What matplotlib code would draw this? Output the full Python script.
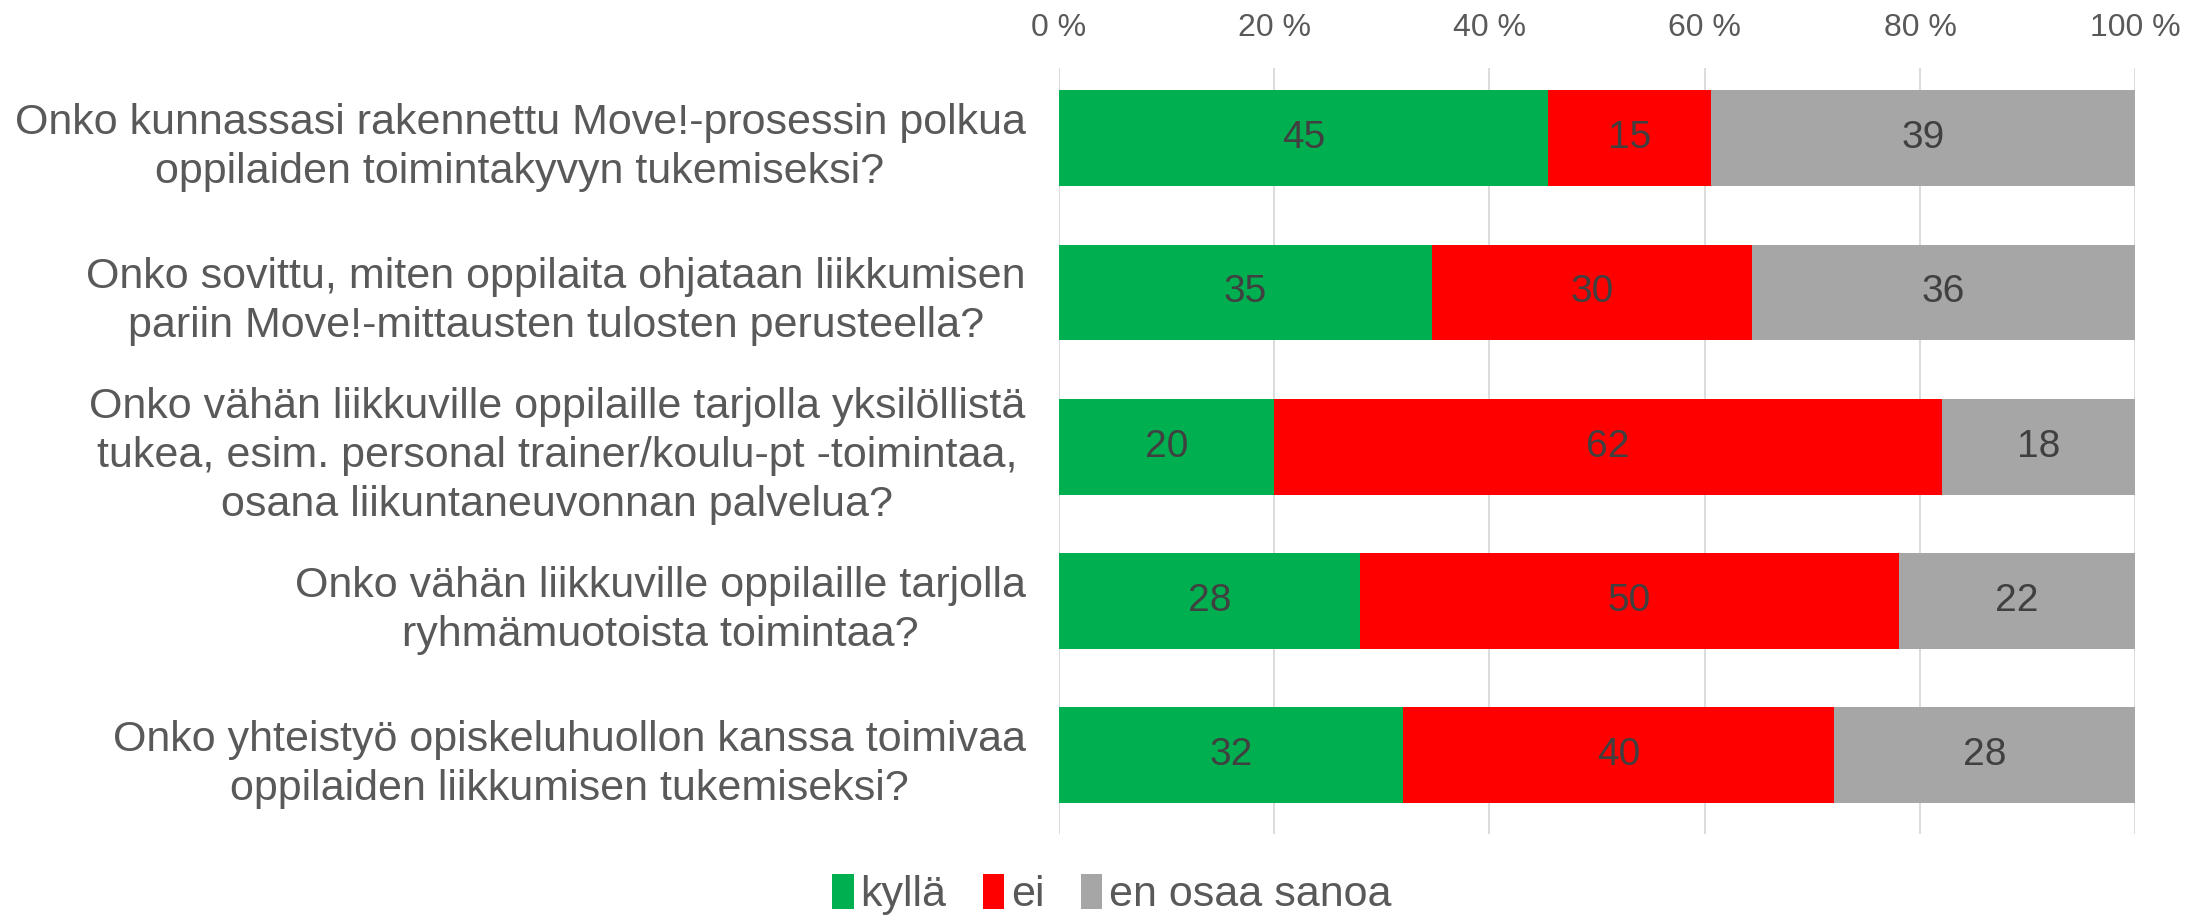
import matplotlib
matplotlib.use("Agg")
import matplotlib.pyplot as plt
import numpy as np

plt.rcParams['font.family'] = ['Liberation Sans', 'DejaVu Sans']

categories = [
    "Onko kunnassasi rakennettu Move!-prosessin polkua\noppilaiden toimintakyvyn tukemiseksi?",
    "Onko sovittu, miten oppilaita ohjataan liikkumisen\npariin Move!-mittausten tulosten perusteella?",
    "Onko vähän liikkuville oppilaille tarjolla yksilöllistä\ntukea, esim. personal trainer/koulu-pt -toimintaa,\nosana liikuntaneuvonnan palvelua?",
    "Onko vähän liikkuville oppilaille tarjolla\nryhmämuotoista toimintaa?",
    "Onko yhteistyö opiskeluhuollon kanssa toimivaa\noppilaiden liikkumisen tukemiseksi?",
]
kylla = [45, 35, 20, 28, 32]
ei = [15, 30, 62, 50, 40]
eos = [39, 36, 18, 22, 28]
series_names = ["kyllä", "ei", "en osaa sanoa"]
colors = ["#00B050", "#FF0000", "#A6A6A6"]
xticks = [0, 20, 40, 60, 80, 100]
xtick_labels = ["0 %", "20 %", "40 %", "60 %", "80 %", "100 %"]

data = np.array([kylla, ei, eos], dtype=float)
totals = data.sum(axis=0)
pct = data / totals * 100

fig = plt.figure(figsize=(22.06, 9.15), dpi=100)
ax = fig.add_axes([0.480, 0.0885, 0.488, 0.8375])

y = np.arange(len(categories))
left = np.zeros(len(categories))
for i in range(3):
    bars = ax.barh(y, pct[i], left=left, height=0.62, color=colors[i],
                   label=series_names[i], zorder=2)
    for j, b in enumerate(bars):
        ax.text(left[j] + pct[i][j] / 2, y[j], f"{int(data[i][j])}",
                ha="center", va="center", fontsize=28, color="#404040", zorder=3)
    left += pct[i]

ax.set_xlim(0, 100)
ax.set_ylim(4.51, -0.456)
ax.set_xticks(xticks)
ax.set_xticklabels(xtick_labels)
ax.xaxis.tick_top()
ax.tick_params(axis="x", length=0, pad=18, labelsize=23, labelcolor="#595959")
ax.set_yticks(y)
ax.set_yticklabels(categories, fontsize=31, color="#595959", multialignment="center",
                   linespacing=1.3)
ax.tick_params(axis="y", length=0, pad=24)
ax.grid(axis="x", color="#D9D9D9", linewidth=1.3, zorder=0)
for s in ax.spines.values():
    s.set_visible(False)

fig.legend(loc="center", bbox_to_anchor=(0.504, 0.022), ncol=3, frameon=False,
           fontsize=31, labelcolor="#595959", handlelength=0.5, handleheight=0.85,
           handletextpad=0.15, columnspacing=0.85)

fig.savefig("out.png", dpi=100)
